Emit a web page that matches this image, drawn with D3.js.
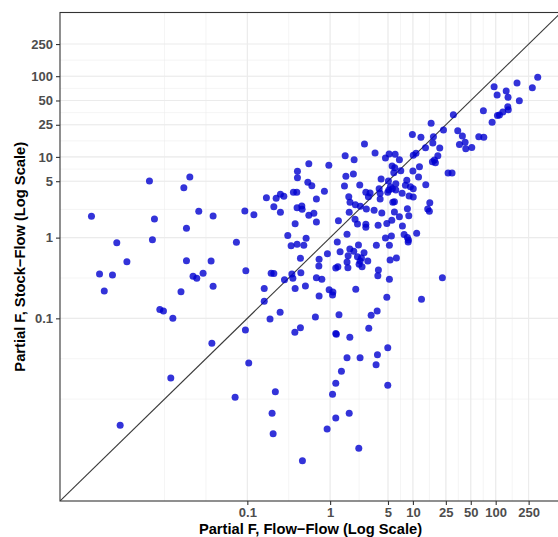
<!DOCTYPE html>
<html>
<head>
<meta charset="utf-8">
<script src="https://cdn.jsdelivr.net/npm/d3@7"></script>
<style>
  html, body { margin: 0; padding: 0; background: #fff; }
  svg { display: block; }
</style>
</head>
<body>
<svg id="chart" width="558" height="537"></svg>
<script>
// Partial F statistics: flow-flow (x) against stock-flow (y), one point per model term
const flowFlowF = [
  0.00131, 0.00164, 0.00187, 0.00235, 0.00265, 0.00291, 0.00351, 0.00657, 0.00714, 0.00755,
  0.00877, 0.0097, 0.0119, 0.0126, 0.0158, 0.0171, 0.0184, 0.0184, 0.0202, 0.0221, 0.0245, 0.0259,
  322, 277, 181, 134, 141, 193, 95.7, 104, 140, 142,
  122, 111, 105, 71.0, 90.5, 30.8, 16.6, 23.4, 34.8, 39.6,
  62.5, 71.8, 9.86, 12.5, 17.7, 17.4, 14.2, 21.1, 36.5, 42.7,
  43.5, 51.4, 2.60, 3.49, 5.16, 6.10, 4.66, 6.87, 10.1, 10.9,
  1.52, 1.95, 0.553, 0.965, 20.0, 18.2, 17.2, 18.7, 5.61, 6.04,
  12.0, 7.14, 5.88, 10.0, 26.6, 29.7, 0.403, 0.403, 1.55, 1.91,
  4.13, 5.06, 8.44, 11.7, 0.538, 0.601, 1.49, 2.28, 0.853, 6.22,
  5.35, 5.12, 5.65, 6.22, 8.12, 9.33, 10.1, 14.3, 3.91, 2.70,
  3.04, 4.02, 4.97, 7.41, 9.0, 10.1, 1.68, 0.683, 0.360, 0.396,
  0.251, 0.276, 0.223, 0.170, 2.90,
  0.0386, 0.0933, 0.120, 0.209, 0.251, 0.399, 0.455, 0.459, 0.378, 0.553,
  0.636, 0.683, 0.308, 0.513, 0.338, 0.399, 0.481, 0.0738, 0.0365, 0.0292,
  0.0386, 0.0959, 0.194, 0.209, 0.281, 0.345, 0.355, 0.443, 0.438, 0.160,
  0.378, 0.503, 0.683, 0.794, 0.736, 0.731, 0.928, 1.22, 1.26, 1.60,
  1.70, 1.74, 2.02, 2.32, 2.0, 2.14, 2.70, 2.70, 2.20, 1.73,
  1.65, 1.93, 2.14, 2.39, 2.30, 2.24, 2.57, 2.85, 2.43, 1.60,
  1.64, 1.17, 1.24, 1.32, 2.04, 0.973, 1.08, 1.07, 0.736, 2.74,
  3.40, 4.21, 3.80, 4.84, 5.56, 5.98, 5.72, 5.98, 4.02, 4.66,
  5.50, 3.62, 5.20, 6.32, 5.30, 3.83, 3.77, 5.20, 4.84,
  16.0, 15.1, 15.8, 8.58, 6.87, 8.92, 7.47, 11.1, 7.83, 8.58, 8.83, 8.76, 22.7, 12.7,
  0.160, 0.249, 0.188, 0.0948, 0.0373, 0.104, 0.0712, 0.218, 0.199, 0.205,
  0.463, 0.664, 0.375, 0.438, 1.28, 1.19, 1.17, 1.73, 1.60, 2.30,
  1.37, 1.17, 1.07, 1.17, 0.920, 1.70, 2.22, 3.13, 3.70, 2.93,
  4.97, 3.73, 3.59, 4.97
];

const stockFlowF = [
  1.84, 0.354, 0.218, 0.344, 0.865, 0.00473, 0.503, 5.02, 0.942, 1.70,
  0.129, 0.123, 0.0182, 0.100, 0.214, 4.15, 1.31, 0.517, 5.63, 0.332, 0.313, 2.12,
  96.8, 71.9, 82.2, 65.5, 54.7, 49.7, 74.0, 58.4, 41.9, 38.4,
  36.0, 33.0, 32.5, 37.3, 26.8, 33.3, 26.1, 21.5, 21.1, 18.1,
  17.8, 17.5, 19.0, 17.5, 17.8, 14.9, 13.0, 12.9, 14.2, 15.2,
  12.6, 13.1, 14.4, 11.2, 10.9, 10.8, 9.69, 9.23, 10.5, 11.1,
  10.3, 9.23, 8.24, 7.87, 10.3, 9.15, 8.71, 8.47, 7.71, 7.35,
  7.56, 6.74, 6.37, 6.68, 6.31, 6.3, 6.63, 5.52, 5.75, 6.14,
  5.32, 5.02, 5.13, 5.63, 4.84, 4.40, 4.36, 4.48, 3.75, 4.65,
  4.27, 3.89, 4.04, 3.9, 4.45, 4.27, 4.04, 4.52, 4.04, 3.64,
  3.57, 3.54, 3.64, 3.54, 3.28, 3.18, 3.21, 3.01, 3.64, 3.64,
  3.44, 3.25, 3.07, 3.12, 3.21,
  1.85, 2.14, 1.92, 2.41, 2.06, 2.35, 2.46, 2.24, 1.49, 1.89,
  2.0, 1.56, 1.06, 0.98, 0.794, 0.826, 0.803, 0.875, 0.513, 0.361,
  0.249, 0.389, 0.361, 0.36, 0.301, 0.354, 0.313, 0.367, 0.554, 0.235,
  0.235, 0.251, 0.319, 0.304, 0.538, 0.445, 0.632, 0.882, 1.62, 1.10,
  2.06, 2.74, 2.56, 2.44, 1.69, 1.47, 1.46, 1.34, 0.810, 0.722,
  0.597, 0.676, 0.580, 0.559, 0.513, 0.467, 0.650, 0.513, 0.436, 0.499,
  0.424, 0.420, 0.436, 0.669, 0.229, 0.226, 0.212, 0.195, 0.189, 2.26,
  2.18, 2.02, 1.42, 1.50, 1.64, 2.08, 2.74, 2.78, 3.01, 0.99,
  1.05, 0.803, 0.803, 0.559, 0.528, 0.397, 0.337, 0.304, 0.182,
  2.71, 2.26, 2.12, 2.28, 1.82, 1.87, 1.39, 1.13, 1.09, 1.0, 0.934, 0.882, 0.319, 0.172,
  0.163, 0.119, 0.098, 0.0717, 0.0491, 0.0279, 0.0105, 0.0123, 0.00666, 0.00372,
  0.00172, 0.104, 0.0671, 0.0766, 0.111, 0.0634, 0.0649, 0.0582, 0.0325, 0.0325,
  0.0221, 0.0157, 0.0115, 0.00582, 0.00425, 0.00666, 0.00245, 0.109, 0.123, 0.0752,
  0.0433, 0.0354, 0.0266, 0.0148
];

const tickValues = [0.1, 1, 5, 10, 25, 50, 100, 250];
const tickLabels = ["0.1", "1", "5", "10", "25", "50", "100", "250"];
const axisLimits = [0.000546, 615];

const xTitle = "Partial F, Flow\u2212Flow (Log Scale)";
const yTitle = "Partial F, Stock\u2212Flow (Log Scale)";

const points = flowFlowF.map((v, i) => ({ ff: v, sf: stockFlowF[i] }));

const panel = { left: 60, top: 12.5, right: 561, bottom: 501 };
const svg = d3.select("#chart");

const x = d3.scaleLog().domain(axisLimits).range([panel.left, panel.right]);
const y = d3.scaleLog().domain(axisLimits).range([panel.bottom, panel.top]);

// minor grid: geometric midpoints between breaks, extended one step below the first break
const lg = tickValues.map(Math.log10);
const ext = [lg[0] - (lg[1] - lg[0])].concat(lg);
const minorLog = [];
for (let i = 0; i < ext.length - 1; i++) {
  minorLog.push(ext[i], (ext[i] + ext[i + 1]) / 2);
}
const minorVals = minorLog.map(v => Math.pow(10, v)).filter(v => v >= axisLimits[0] && v <= axisLimits[1]);

const clip = svg.append("defs").append("clipPath").attr("id", "panel-clip")
  .append("rect")
  .attr("x", panel.left).attr("y", panel.top)
  .attr("width", panel.right - panel.left).attr("height", panel.bottom - panel.top);

const grid = svg.append("g").attr("clip-path", "url(#panel-clip)");

grid.selectAll("line.vminor").data(minorVals).join("line")
  .attr("x1", d => x(d)).attr("x2", d => x(d))
  .attr("y1", panel.top).attr("y2", panel.bottom)
  .attr("stroke", "#ebebeb").attr("stroke-width", 0.55);
grid.selectAll("line.hminor").data(minorVals).join("line")
  .attr("y1", d => y(d)).attr("y2", d => y(d))
  .attr("x1", panel.left).attr("x2", panel.right)
  .attr("stroke", "#ebebeb").attr("stroke-width", 0.55);
grid.selectAll("line.vmajor").data(tickValues).join("line")
  .attr("x1", d => x(d)).attr("x2", d => x(d))
  .attr("y1", panel.top).attr("y2", panel.bottom)
  .attr("stroke", "#ebebeb").attr("stroke-width", 1.1);
grid.selectAll("line.hmajor").data(tickValues).join("line")
  .attr("y1", d => y(d)).attr("y2", d => y(d))
  .attr("x1", panel.left).attr("x2", panel.right)
  .attr("stroke", "#ebebeb").attr("stroke-width", 1.1);

// reference line y = x
const marks = svg.append("g").attr("clip-path", "url(#panel-clip)");
marks.append("line")
  .attr("x1", x(axisLimits[0])).attr("y1", y(axisLimits[0]))
  .attr("x2", x(axisLimits[1])).attr("y2", y(axisLimits[1]))
  .attr("stroke", "#3a3a3a").attr("stroke-width", 1.1);

marks.selectAll("circle").data(points).join("circle")
  .attr("cx", d => x(d.ff))
  .attr("cy", d => y(d.sf))
  .attr("r", 3.5)
  .attr("fill", "#0000d0")
  .attr("fill-opacity", 0.8);

// panel border
svg.append("rect")
  .attr("x", panel.left).attr("y", panel.top)
  .attr("width", panel.right - panel.left).attr("height", panel.bottom - panel.top)
  .attr("fill", "none").attr("stroke", "#333333").attr("stroke-width", 1.1);

// axes
const fmt = d => tickLabels[tickValues.indexOf(d)];
const xAxis = svg.append("g")
  .attr("transform", `translate(0,${panel.bottom})`)
  .call(d3.axisBottom(x).tickValues(tickValues).tickFormat(fmt).tickSizeOuter(0).tickSize(4).tickPadding(3));
const yAxis = svg.append("g")
  .attr("transform", `translate(${panel.left},0)`)
  .call(d3.axisLeft(y).tickValues(tickValues).tickFormat(fmt).tickSizeOuter(0).tickSize(4).tickPadding(3));

[xAxis, yAxis].forEach(g => {
  g.select(".domain").remove();
  g.selectAll(".tick line").attr("stroke", "#333333").attr("stroke-width", 1.1);
  g.selectAll(".tick text")
    .attr("fill", "#4d4d4d")
    .style("font-family", "'Liberation Sans', Arial, sans-serif")
    .style("font-weight", "bold")
    .style("font-size", "13px");
});

svg.append("text")
  .attr("x", (panel.left + panel.right) / 2)
  .attr("y", 534)
  .attr("text-anchor", "middle")
  .style("font-family", "'Liberation Sans', Arial, sans-serif")
  .style("font-weight", "bold")
  .style("font-size", "14.7px")
  .attr("fill", "#000")
  .text(xTitle);

svg.append("text")
  .attr("transform", `translate(25,${(panel.top + panel.bottom) / 2}) rotate(-90)`)
  .attr("text-anchor", "middle")
  .style("font-family", "'Liberation Sans', Arial, sans-serif")
  .style("font-weight", "bold")
  .style("font-size", "14.7px")
  .attr("fill", "#000")
  .text(yTitle);
</script>
</body>
</html>
